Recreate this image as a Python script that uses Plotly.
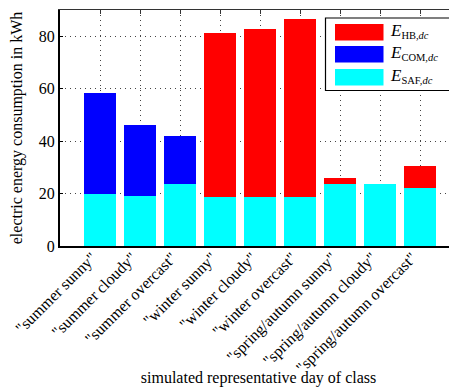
import plotly.graph_objects as go

categories = ['"summer sunny"', '"summer cloudy"', '"summer overcast"',
              '"winter sunny"', '"winter cloudy"', '"winter overcast"',
              '"spring/autumn sunny"', '"spring/autumn cloudy"', '"spring/autumn overcast"']
E_SAF = [20.0, 19.2, 23.5, 18.8, 18.8, 18.8, 23.5, 23.5, 22.0]
E_COM = [38.2, 26.8, 18.5, 0, 0, 0, 0, 0, 0]
E_HB = [0, 0, 0, 62.3, 63.8, 67.8, 2.4, 0, 8.6]
y_ticks = [0, 20, 40, 60, 80]

E_SPAN = '<span style="font-size:17px"><i>E</i></span>'
series = [
    (E_SPAN + "<sub>SAF,<i>dc</i></sub>", E_SAF, "#00FFFF"),
    (E_SPAN + "<sub>COM,<i>dc</i></sub>", E_COM, "#0000FF"),
    (E_SPAN + "<sub>HB,<i>dc</i></sub>", E_HB, "#FF0000"),
]

# the page body has an 8px default margin, so the figure is sized to fit the window
OFF = 8
W, H = 457 - OFF, 387 - OFF
L, R, T, B = 60 - OFF, 0, 10 - OFF, 149 - OFF
FONT = "Liberation Serif"
xs = list(range(1, len(categories) + 1))
GRID = "1px,4px"

fig = go.Figure()
for name, vals, col in series:
    fig.add_trace(go.Bar(x=xs, y=vals, name=name, marker=dict(color=col, line=dict(width=0)),
                         width=0.8, showlegend=False))

xr = [0, (W - L - R) / 40.0]
fig.update_layout(
    width=W, height=H, barmode="stack",
    margin=dict(l=L, r=R, t=T, b=B, pad=0),
    plot_bgcolor="white", paper_bgcolor="white",
    font=dict(family=FONT, size=15, color="black"),
    xaxis=dict(range=xr, tickvals=xs, ticktext=categories, tickangle=-45,
               showgrid=True, gridcolor="#444444", griddash=GRID, gridwidth=1,
               showline=True, linecolor="black", linewidth=2, ticks="",
               ticklabelshift=-8, ticklabelstandoff=-6,
               tickfont=dict(size=16, family=FONT), automargin=False,
               title=dict(text="simulated representative day of class", standoff=2,
                          font=dict(size=16, family=FONT)),
               zeroline=False),
    xaxis2=dict(range=xr, overlaying="x", side="top", tickvals=xs, showticklabels=False,
                ticks="inside", ticklen=4, tickcolor="#333333", showline=True,
                linecolor="#333333", linewidth=1, showgrid=False, zeroline=False,
                automargin=False),
    yaxis=dict(range=[0, 90], tickvals=y_ticks, showgrid=True, gridcolor="#444444",
               griddash=GRID, gridwidth=1, showline=True, linecolor="black", linewidth=2,
               ticks="inside", ticklen=3, tickcolor="black", zeroline=False,
               tickfont=dict(size=16, family=FONT), automargin=False,
               title=dict(text="electric energy consumption in kWh", standoff=14,
                          font=dict(size=16, family=FONT))),
)
# invisible trace to activate the top axis
fig.add_trace(go.Scatter(x=[xs[0]], y=[0], xaxis="x2", mode="markers",
                         marker=dict(opacity=0), showlegend=False, hoverinfo="skip"))

# custom legend (paper coords), positions given in window pixels
pw, ph = W - L - R, H - T - B
def px(x):
    return (x - OFF - L) / pw
def py(y):
    return (H - B - (y - OFF)) / ph

fig.add_shape(type="rect", xref="paper", yref="paper", x0=px(325.5), x1=px(452.5),
              y0=py(90.5), y1=py(18), line=dict(color="black", width=1.2), fillcolor="white",
              layer="above")
legend_rows = [series[2], series[1], series[0]]
row_tops = [24, 46, 69]
for (name, vals, col), top in zip(legend_rows, row_tops):
    fig.add_shape(type="rect", xref="paper", yref="paper", x0=px(335), x1=px(383.5),
                  y0=py(top + 16.5), y1=py(top), line=dict(width=0), fillcolor=col, layer="above")
    fig.add_annotation(xref="paper", yref="paper", x=px(388), y=py(top + 7), text=name,
                       showarrow=False, xanchor="left", yanchor="middle",
                       font=dict(size=15, family=FONT, color="black"))

fig.write_html("out.html")
